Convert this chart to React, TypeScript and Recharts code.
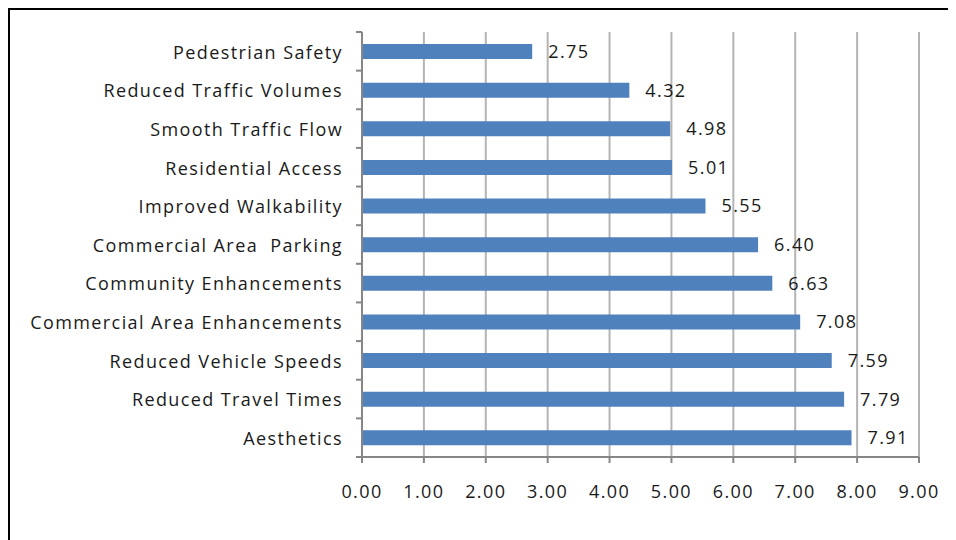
import { BarChart, Bar, XAxis, YAxis, CartesianGrid, LabelList } from "recharts";

const categories = [
  "Pedestrian Safety",
  "Reduced Traffic Volumes",
  "Smooth Traffic Flow",
  "Residential Access",
  "Improved Walkability",
  "Commercial Area  Parking",
  "Community Enhancements",
  "Commercial Area Enhancements",
  "Reduced Vehicle Speeds",
  "Reduced Travel Times",
  "Aesthetics",
];

const scores = [2.75, 4.32, 4.98, 5.01, 5.55, 6.4, 6.63, 7.08, 7.59, 7.79, 7.91];

const xTicks = [0, 1, 2, 3, 4, 5, 6, 7, 8, 9];

const data = categories.map((name, i) => ({ name, score: scores[i] }));

const FONT = "'Open Sans', sans-serif";
const FONT_SIZE = 18;
const SPACING = 1.4;
const TEXT = "#1a1a1a";
const AXIS_GREY = "#868686";
const LABEL_GAP = 19;

// category ticks sit on the band edges, like Excel
function CategoryTick(props: any) {
  const { x, y, payload, index, visibleTicksCount } = props;
  const half = payload?.offset ?? 0;
  const axisX = x + LABEL_GAP;
  const last = index === visibleTicksCount - 1;
  return (
    <g>
      <line x1={axisX - 6} x2={axisX} y1={y - half} y2={y - half} stroke={AXIS_GREY} strokeWidth={2} />
      {last && (
        <line x1={axisX - 6} x2={axisX} y1={y + half} y2={y + half} stroke={AXIS_GREY} strokeWidth={2} />
      )}
      <text
        x={x}
        y={y + 1}
        dy="0.35em"
        textAnchor="end"
        fill={TEXT}
        fontSize={FONT_SIZE}
        fontFamily={FONT}
        letterSpacing={SPACING}
        style={{ whiteSpace: "pre" }}
      >
        {payload.value}
      </text>
    </g>
  );
}

export default function App() {
  return (
    <div
      style={{
        width: 960,
        height: 540,
        borderTop: "2px solid #000",
        borderLeft: "2px solid #000",
        boxSizing: "border-box",
      }}
    >
      <BarChart
        width={946}
        height={530}
        data={data}
        layout="vertical"
        margin={{ top: 22, right: 37, left: 0, bottom: 0 }}
      >
        <CartesianGrid horizontal={false} stroke="#b4b4b4" strokeWidth={2} />
        <XAxis
          type="number"
          domain={[0, 9]}
          ticks={xTicks}
          interval={0}
          height={83}
          tickSize={6}
          tickMargin={22}
          tickFormatter={(v: number) => v.toFixed(2)}
          stroke={AXIS_GREY}
          strokeWidth={2}
          tick={{ fill: TEXT, fontSize: FONT_SIZE, fontFamily: FONT, letterSpacing: SPACING }}
        />
        <YAxis
          type="category"
          dataKey="name"
          width={352}
          interval={0}
          tickLine={false}
          tickSize={0}
          tickMargin={LABEL_GAP}
          stroke={AXIS_GREY}
          strokeWidth={2}
          tick={<CategoryTick />}
        />
        <Bar dataKey="score" fill="#4f81bd" barSize={15} isAnimationActive={false}>
          <LabelList
            dataKey="score"
            position="right"
            offset={16}
            formatter={(v: any) => Number(v).toFixed(2)}
            fill={TEXT}
            fontSize={FONT_SIZE}
            fontFamily={FONT}
            letterSpacing={SPACING}
          />
        </Bar>
      </BarChart>
    </div>
  );
}
